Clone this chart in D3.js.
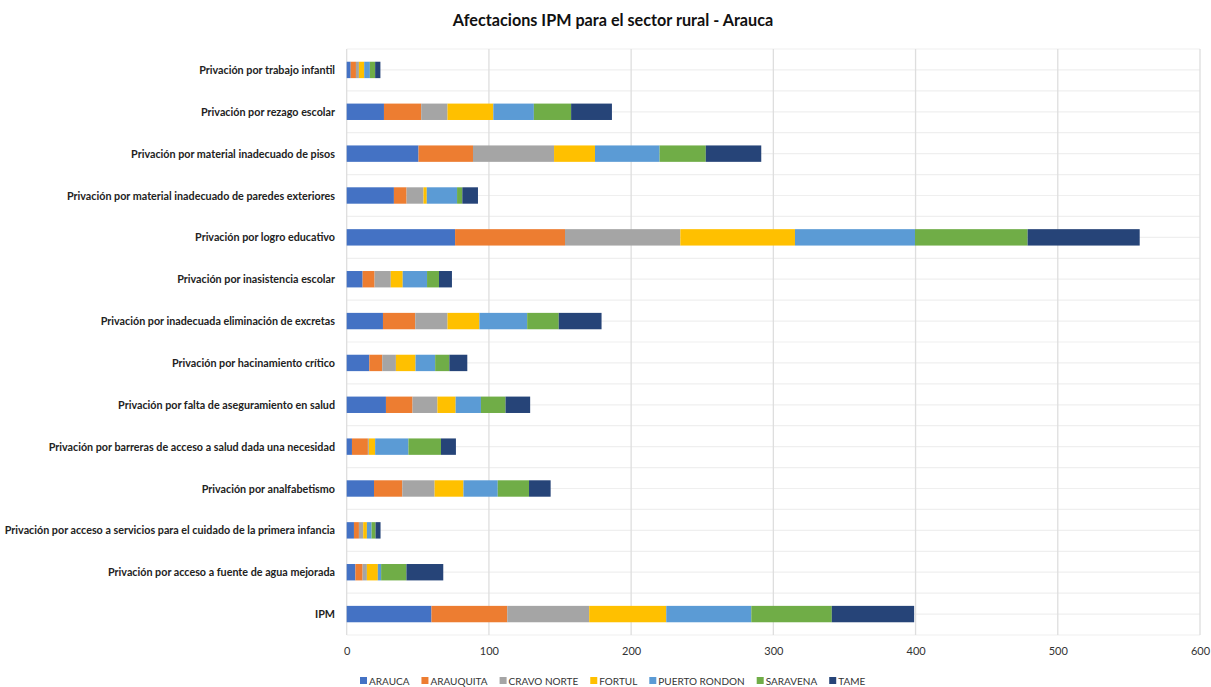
<!DOCTYPE html>
<html lang="es">
<head>
<meta charset="UTF-8" />
<title>Afectacions IPM para el sector rural - Arauca</title>
<style>
  body { margin: 0; background: #fff; }
  svg { display: block; font-family: Lato, "Open Sans", sans-serif; }
</style>
</head>
<body>
<script src="https://cdn.jsdelivr.net/npm/d3@7"></script>
<div id="app"></div>
<script>
// Datos
const categories = [
  "Privación por trabajo infantil",
  "Privación por rezago escolar",
  "Privación por material inadecuado de pisos",
  "Privación por material inadecuado de paredes exteriores",
  "Privación por logro educativo",
  "Privación por inasistencia escolar",
  "Privación por inadecuada eliminación de excretas",
  "Privación por hacinamiento crítico",
  "Privación por falta de aseguramiento en salud",
  "Privación por barreras de acceso a salud dada una necesidad",
  "Privación por analfabetismo",
  "Privación por acceso a servicios para el cuidado de la primera infancia",
  "Privación por acceso a fuente de agua mejorada",
  "IPM"
];
const seriesNames = ["ARAUCA", "ARAUQUITA", "CRAVO NORTE", "FORTUL", "PUERTO RONDON", "SARAVENA", "TAME"];
const arauca     = [2.8, 26.2, 50.5, 33.2, 76.2, 11.2, 25.5, 15.9, 27.6, 3.7, 19.2, 5.1, 6.1, 59.6];
const arauquita  = [3.7, 26.2, 38.3, 8.9, 77.3, 8.4, 22.7, 9.1, 18.7, 11.2, 19.9, 3.5, 5.1, 53.3];
const cravoNorte = [2.1, 18.5, 57.0, 11.9, 81.1, 11.4, 22.7, 9.6, 17.5, 0.7, 22.7, 3.0, 3.0, 57.6];
const fortul     = [3.7, 32.2, 28.8, 2.3, 80.6, 8.4, 22.4, 13.8, 12.8, 4.4, 20.3, 2.6, 7.7, 54.2];
const puertoRondon = [4.0, 28.5, 45.4, 21.3, 84.4, 17.1, 33.6, 13.8, 17.8, 23.4, 24.1, 3.3, 2.3, 59.8];
const saravena   = [3.7, 26.2, 32.5, 3.7, 79.2, 8.4, 22.2, 10.0, 17.3, 22.9, 22.0, 2.8, 17.8, 56.6];
const tame       = [3.7, 28.7, 39.0, 11.0, 78.8, 9.1, 30.1, 12.6, 17.3, 10.5, 15.2, 3.5, 25.9, 57.9];
const xTicks = [0, 100, 200, 300, 400, 500, 600];
const colors = ["#4472C4", "#ED7D31", "#A5A5A5", "#FFC000", "#5B9BD5", "#70AD47", "#264478"];

const allSeries = [arauca, arauquita, cravoNorte, fortul, puertoRondon, saravena, tame];
const rows = categories.map((c, i) => {
  const r = { cat: c };
  seriesNames.forEach((s, j) => r[s] = allSeries[j][i]);
  return r;
});

// Lienzo
const w = 1211, h = 687;
const m = { top: 49, right: 11, bottom: 52, left: 346.7 };
const svg = d3.select("#app").append("svg").attr("width", w).attr("height", h);

const x = d3.scaleLinear().domain([0, 600]).range([m.left, 1200]);
const y = d3.scaleBand().domain(categories).range([m.top, h - m.bottom]).paddingInner(0).paddingOuter(0);

// Titulo
svg.append("text")
  .attr("x", 613).attr("y", 26)
  .attr("text-anchor", "middle")
  .style("font-size", "16.2px").style("font-weight", "bold").style("fill", "#111")
  .text("Afectacions IPM para el sector rural - Arauca");

// Rejilla horizontal (centros y limites de las bandas)
const hLines = [];
categories.forEach(c => { hLines.push(y(c)); hLines.push(y(c) + y.bandwidth() / 2); });
hLines.push(y.range()[1]);
svg.append("g").selectAll("line").data(hLines).enter().append("line")
  .attr("x1", x(0)).attr("x2", x(600))
  .attr("y1", d => d).attr("y2", d => d)
  .attr("stroke", "#efefef").attr("stroke-width", 1.2);

// Rejilla vertical
svg.append("g").selectAll("line").data(xTicks).enter().append("line")
  .attr("x1", d => x(d)).attr("x2", d => x(d))
  .attr("y1", y.range()[0]).attr("y2", y.range()[1])
  .attr("stroke", "#dedede").attr("stroke-width", 1.3);

// Barras apiladas
const stack = d3.stack().keys(seriesNames);
const stacked = stack(rows);
const barH = 16.4;
svg.append("g").selectAll("g").data(stacked).enter().append("g")
  .attr("fill", (d, i) => colors[i])
  .selectAll("rect").data(d => d).enter().append("rect")
  .attr("x", d => x(d[0]))
  .attr("width", d => x(d[1]) - x(d[0]))
  .attr("y", d => y(d.data.cat) + y.bandwidth() / 2 - barH / 2)
  .attr("height", barH);

// Etiquetas de categoria
svg.append("g").selectAll("text").data(categories).enter().append("text")
  .attr("x", 335)
  .attr("y", d => y(d) + y.bandwidth() / 2 + 4)
  .attr("text-anchor", "end")
  .style("font-size", "10.75px").style("font-weight", "bold").style("fill", "#222")
  .text(d => d);

// Eje x
const xAxis = d3.axisBottom(x).tickValues(xTicks).tickSize(0).tickPadding(12);
const gx = svg.append("g").attr("transform", "translate(0," + y.range()[1] + ")").call(xAxis);
gx.select(".domain").remove();
gx.selectAll("text").style("font-size", "11px").style("fill", "#333").style("font-family", "Lato, sans-serif");

// Leyenda
const legend = svg.append("g").attr("transform", "translate(0,681)");
let lx = 360;
seriesNames.forEach((s, i) => {
  const g = legend.append("g").attr("transform", "translate(" + lx + ",0)");
  g.append("rect").attr("x", 0).attr("y", -4).attr("width", 7).attr("height", 7).attr("fill", colors[i]);
  const t = g.append("text").attr("x", 9).attr("y", 3.5)
    .style("font-size", "10px").style("fill", "#333").text(s);
  lx += 9 + t.node().getComputedTextLength() + 12;
});
</script>
</body>
</html>
